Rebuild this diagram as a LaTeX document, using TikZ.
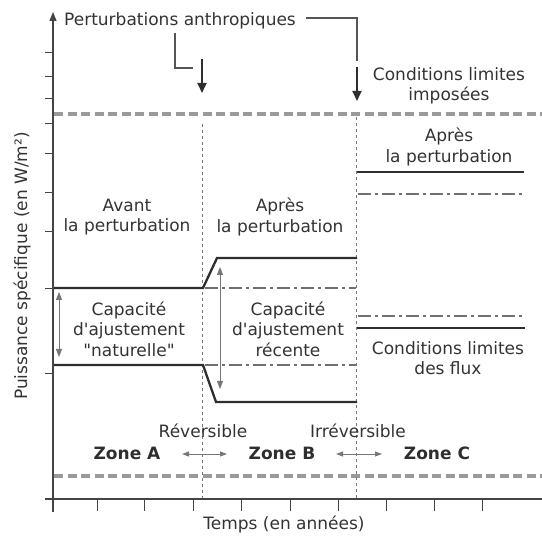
\documentclass[tikz,border=0pt]{standalone}
\usepackage{fontspec}
\newfontfamily\dvfont{DejaVu Sans}
\usetikzlibrary{arrows.meta}
\definecolor{txt}{HTML}{333333}
\definecolor{ink}{HTML}{2E2E2E}
\definecolor{axisc}{HTML}{444444}
\definecolor{dashg}{HTML}{9A9A9A}
\definecolor{dotg}{HTML}{777777}
\definecolor{ddg}{HTML}{707070}
\definecolor{leadg}{HTML}{555555}
\tikzset{
  lbl/.style={text=txt, align=center, inner sep=0pt},
  zonelbl/.style={text=ink, font=\dvfont\fontsize{17}{20.5}\selectfont\bfseries, inner sep=0pt},
  axisline/.style={draw=axisc, line width=1.3pt},
  tickline/.style={draw=axisc, line width=1pt},
  curve/.style={draw=ink, line width=2.3pt},
  limline/.style={draw=dashg, line width=3.5pt, dash pattern=on 9pt off 4.5pt},
  zoneline/.style={draw=dotg, line width=0.9pt, dash pattern=on 3pt off 3pt},
  ddline/.style={draw=ddg, line width=1.3pt, dash pattern=on 13pt off 4pt on 3pt off 4pt},
  dblarrow/.style={draw=dotg, line width=0.9pt, {Triangle[width=6pt,length=8pt]}-{Triangle[width=6pt,length=8pt]}},
  smallarrow/.style={draw=dotg, line width=0.9pt, {Triangle[width=5pt,length=7pt]}-{Triangle[width=5pt,length=7pt]}},
  pertarrow/.style={draw=ink, line width=1.8pt, -{Triangle[width=9pt,length=10pt]}},
  leader/.style={draw=leadg, line width=1.1pt},
}
\begin{document}
\begin{tikzpicture}[x=1pt, y=-1pt, font=\dvfont\fontsize{17}{20.5}\selectfont]
\useasboundingbox (0,0) rectangle (542,537);

% axes
\coordinate (yb) at (53,512);
\coordinate (yt) at (53,12);
\coordinate (xl) at (45,499);
\coordinate (xr) at (542,499);
\draw[axisline, -{Triangle[width=7pt,length=9pt]}] (yb) -- (yt);
\draw[axisline] (xl) -- (xr);
\foreach \yy in {53,77,99,124,154,193,232,289,374}
  \draw[tickline] (45,\yy) -- (53,\yy);
\foreach \xx in {97,144,193,241,290,338,386,434,482}
  \draw[tickline] (\xx,499) -- (\xx,511);

% limit lines
\draw[limline] (54,114) -- (542,114);
\draw[limline] (54,476) -- (542,476);

% zone separators
\draw[zoneline] (202,124) -- (202,498);
\draw[zoneline] (356,117) -- (356,498);

% zone A/B curves
\draw[curve] (54,288) -- (203,288) -- (217,258) -- (357,258);
\draw[curve] (54,365) -- (203,365) -- (216,402) -- (357,402);
\draw[ddline] (205,288) -- (356,288);
\draw[ddline] (205,365) -- (356,365);

% zone C lines
\draw[curve] (357,172) -- (524,172);
\draw[ddline] (358,194) -- (522,194);
\draw[ddline] (358,316) -- (522,316);
\draw[curve] (357,328) -- (525,328);

% capacity arrows
\coordinate (ca1) at (59,292);
\coordinate (ca2) at (59,357);
\coordinate (cb1) at (220,267);
\coordinate (cb2) at (220,389);
\draw[dblarrow] (ca1) -- (ca2);
\draw[dblarrow] (cb1) -- (cb2);

% perturbations
\node[lbl, anchor=base west] (pa) at (64,26) {Perturbations anthropiques};
\coordinate (l1a) at (175,33);
\coordinate (l1b) at (175,68);
\coordinate (l1c) at (193,68);
\draw[leader] (l1a) -- (l1b) -- (l1c);
\coordinate (r1a) at (306,18);
\coordinate (r1b) at (357,18);
\coordinate (r1c) at (357,61);
\draw[leader] (r1a) -- (r1b) -- (r1c);
\coordinate (p1s) at (202,59);
\coordinate (p1e) at (202,93);
\coordinate (p2s) at (357,67);
\coordinate (p2e) at (357,101);
\draw[pertarrow] (p1s) -- (p1e);
\draw[pertarrow] (p2s) -- (p2e);

% texts
\node[lbl] (cli) at (449,86) {Conditions limites\\imposées};
\node[lbl] (apc) at (449,147) {Après\\la perturbation};
\node[lbl] (avA) at (127,217) {Avant\\la perturbation};
\node[lbl] (apB) at (280,217) {Après\\la perturbation};
\node[lbl] (capA) at (129,329) {Capacité\\d'ajustement\\"naturelle"};
\node[lbl] (capB) at (288,329) {Capacité\\d'ajustement\\récente};
\node[lbl] (clf) at (448,358) {Conditions limites\\des flux};
\node[lbl] (rev) at (203,431) {Réversible};
\node[lbl] (irr) at (358,431) {Irréversible};
\node[zonelbl] (za) at (127,453) {Zone A};
\node[zonelbl] (zb) at (282,453) {Zone B};
\node[zonelbl] (zc) at (437,453) {Zone C};
\coordinate (s1a) at (182,454);
\coordinate (s1b) at (227,454);
\coordinate (s2a) at (336,454);
\coordinate (s2b) at (382,454);
\draw[smallarrow] (s1a) -- (s1b);
\draw[smallarrow] (s2a) -- (s2b);
\node[lbl] (tx) at (284,524) {Temps (en années)};
\node[lbl, rotate=90] (ty) at (22,266) {Puissance spécifique (en W/m²)};
\end{tikzpicture}
\end{document}
